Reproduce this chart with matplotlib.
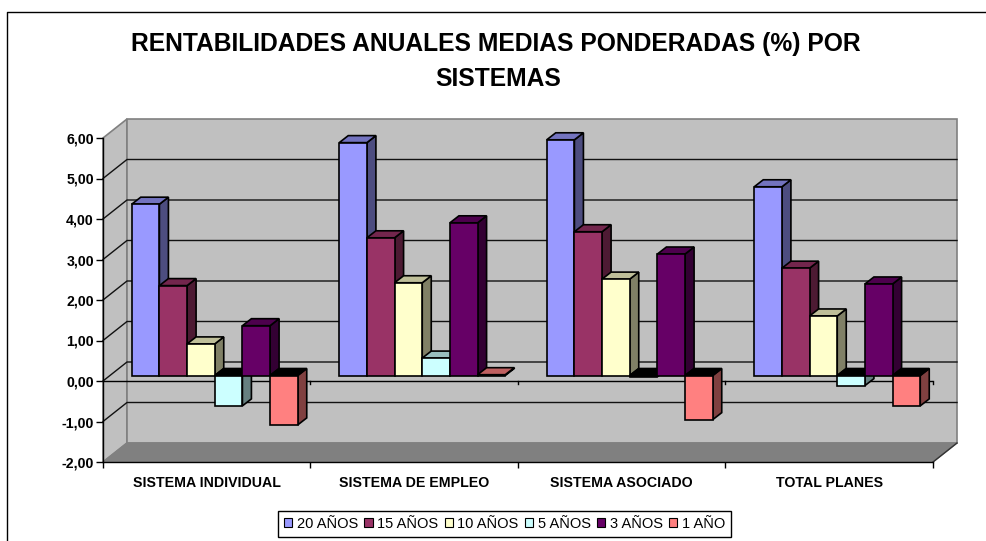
import matplotlib
matplotlib.use("Agg")
import matplotlib.pyplot as plt
from matplotlib.lines import Line2D
from matplotlib.patches import Patch, Polygon

categories = ["SISTEMA INDIVIDUAL", "SISTEMA DE EMPLEO", "SISTEMA ASOCIADO", "TOTAL PLANES"]
series_names = ["20 AÑOS", "15 AÑOS", "10 AÑOS", "5 AÑOS", "3 AÑOS", "1 AÑO"]
y_ticks = [-2, -1, 0, 1, 2, 3, 4, 5, 6]

anos_20 = [4.23, 5.75, 5.82, 4.66]
anos_15 = [2.22, 3.40, 3.55, 2.65]
anos_10 = [0.78, 2.29, 2.38, 1.47]
anos_5 = [-0.75, 0.43, -0.03, -0.25]
anos_3 = [1.23, 3.77, 3.00, 2.26]
ano_1 = [-1.22, 0.02, -1.09, -0.75]
series = [anos_20, anos_15, anos_10, anos_5, anos_3, ano_1]

# front, top and side colour of each series
front_colors = ["#9999FF", "#993366", "#FFFFCC", "#CCFFFF", "#660066", "#FF8080"]
top_colors = ["#7373BF", "#73264D", "#BFBF99", "#99BFBF", "#4D004D", "#BF6060"]
side_colors = ["#4D4D80", "#4D1A33", "#808066", "#668080", "#330033", "#804040"]

W, H = 987, 541
LEFT, RIGHT, TOP, BOTTOM = 103, 933, 138, 462
PX_X = 4 / (RIGHT - LEFT)
PX_Y = 8 / (BOTTOM - TOP)

# 3D look, sizes in data units
WALL_DX, WALL_DY = 24 * PX_X, 19 * PX_Y
BAR_DX, BAR_DY = 9 * PX_X, 7 * PX_Y
BAR_OFF_X, BAR_OFF_Y = 8 * PX_X, 5.5 * PX_Y
GAP = 0.1
BAR_W = (1 - 2 * GAP) / len(series)

plt.rcParams["font.family"] = ["Liberation Sans", "DejaVu Sans"]

fig = plt.figure(figsize=(W / 100, H / 100), dpi=100)
ax = fig.add_axes([LEFT / W, 1 - BOTTOM / H, (RIGHT - LEFT) / W, (BOTTOM - TOP) / H])
ax.set_xlim(0, 4)
ax.set_ylim(-2, 6)
ax.patch.set_visible(False)


def face(points, color, edge="black", lw=1.2, z=3):
    ax.add_patch(Polygon(points, closed=True, facecolor=color, edgecolor=edge,
                         linewidth=lw, joinstyle="miter", clip_on=False, zorder=z))


# walls and floor
face([(0, -2), (WALL_DX, -2 + WALL_DY), (WALL_DX, 6 + WALL_DY), (0, 6)], "#C0C0C0", "#808080", 1.2, 1)
face([(WALL_DX, -2 + WALL_DY), (4 + WALL_DX, -2 + WALL_DY), (4 + WALL_DX, 6 + WALL_DY), (WALL_DX, 6 + WALL_DY)],
     "#C0C0C0", "#808080", 1.2, 1)
face([(0, -2), (WALL_DX, -2 + WALL_DY), (4 + WALL_DX, -2 + WALL_DY), (4, -2)], "#808080", "#808080", 1.0, 1)
ax.plot([4, 4 + WALL_DX], [-2, -2 + WALL_DY], color="#333333", linewidth=1.0, clip_on=False, zorder=2)

# gridlines on the back and side wall
for v in y_ticks[1:-1]:
    ax.plot([0, WALL_DX, 4 + WALL_DX], [v, v + WALL_DY, v + WALL_DY], color="#111111",
            linewidth=1.0, clip_on=False, zorder=2)

# axis line at zero
ax.plot([0, 4], [0, 0], color="black", linewidth=1.0, zorder=2.5)
for k in range(1, 5):
    ax.plot([k, k], [0, -3 * PX_Y], color="black", linewidth=1.0, clip_on=False, zorder=2.5)

# bars, left to right so each one covers the side of the previous
for c in range(len(categories)):
    for s, values in enumerate(series):
        v = values[c]
        x0 = c + GAP + s * BAR_W + BAR_OFF_X
        x1 = x0 + BAR_W
        base = BAR_OFF_Y
        end = v + base
        high = max(base, end)
        low = min(base, end)
        top_color = "black" if v < 0 else top_colors[s]
        face([(x1, low), (x1 + BAR_DX, low + BAR_DY), (x1 + BAR_DX, high + BAR_DY), (x1, high)], side_colors[s])
        face([(x0, high), (x0 + BAR_DX, high + BAR_DY), (x1 + BAR_DX, high + BAR_DY), (x1, high)], top_color)
        face([(x0, low), (x1, low), (x1, high), (x0, high)], front_colors[s])

ax.set_yticks(y_ticks)
ax.set_yticklabels([f"{v:.2f}".replace(".", ",") for v in y_ticks], fontsize=10.2, fontweight="bold")
ax.tick_params(axis="y", length=5, width=1, pad=1.5)
ax.set_xticks(range(5))
ax.set_xticklabels([])
ax.tick_params(axis="x", which="major", length=4, width=1)
ax.set_xticks([i + 0.5 for i in range(4)], minor=True)
ax.set_xticklabels(categories, minor=True, fontsize=10.2, fontweight="bold")
ax.tick_params(axis="x", which="minor", length=0, pad=10)
for side in ["top", "right"]:
    ax.spines[side].set_visible(False)
for side in ["left", "bottom"]:
    ax.spines[side].set_linewidth(1.0)
    ax.spines[side].set_zorder(2.6)

fig.text(496 / W, 1 - 44 / H, "RENTABILIDADES ANUALES MEDIAS PONDERADAS (%) POR", fontsize=17.7,
         fontweight="bold", ha="center", va="center")
fig.text(498 / W, 1 - 79 / H, "SISTEMAS", fontsize=17.7, fontweight="bold", ha="center", va="center")

handles = [Patch(facecolor=col, edgecolor="black", linewidth=0.8, label=name)
           for col, name in zip(front_colors, series_names)]
leg = fig.legend(handles=handles, ncol=6, loc="center", bbox_to_anchor=(504.5 / W, 1 - 524 / H),
                 fontsize=10.5, frameon=True, fancybox=False, edgecolor="black", framealpha=1,
                 handlelength=0.56, handleheight=0.56, handletextpad=0.3, columnspacing=0.45,
                 borderpad=0.4, borderaxespad=0)
leg.get_frame().set_linewidth(1.0)

# chart border, only the top and left edges are inside the picture
fig.add_artist(Line2D([7.5 / W, 7.5 / W, 1], [0, 1 - 11.5 / H, 1 - 11.5 / H], color="black", linewidth=1.0))

fig.savefig("out.png", dpi=100, facecolor="white")
